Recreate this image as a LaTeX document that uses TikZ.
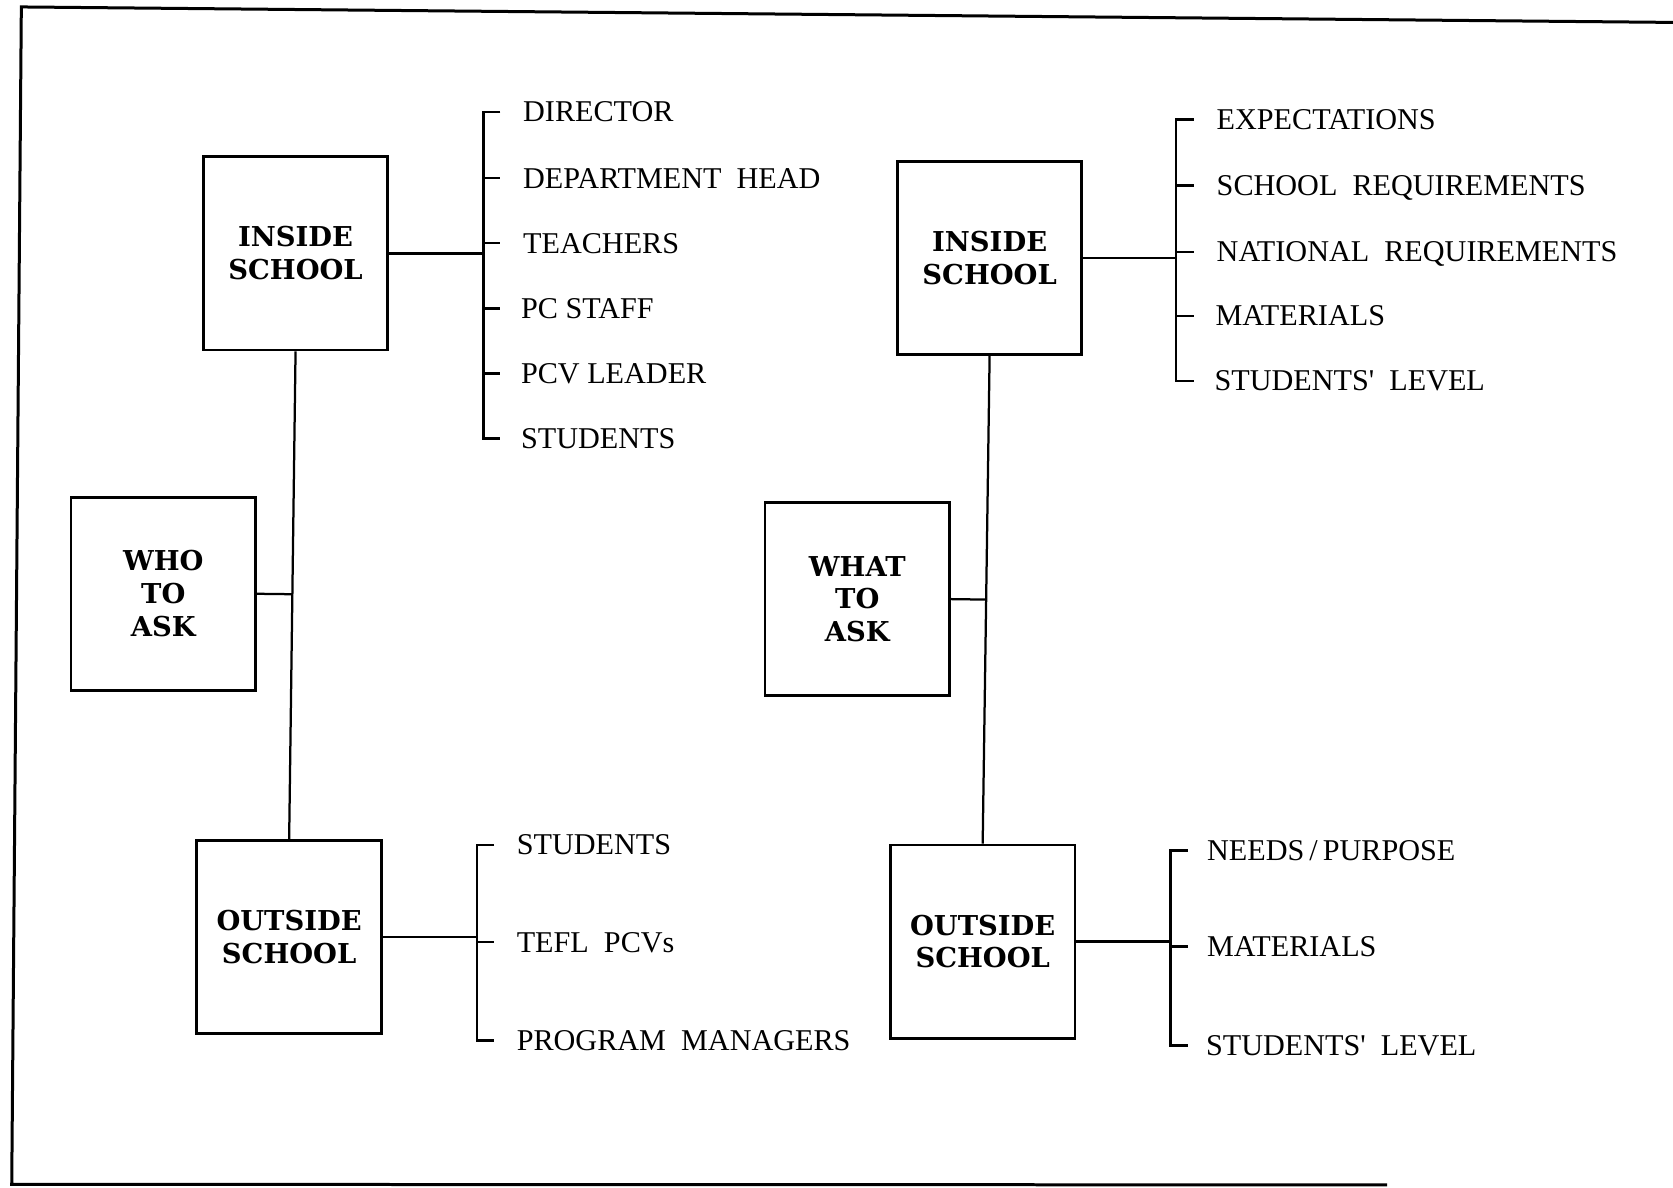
\documentclass[tikz,border=0pt]{standalone}
\usepackage{fontspec}
\setmainfont{Liberation Serif}
\newfontfamily\itemfont{Liberation Serif}
\newfontfamily\boxfont{DejaVu Serif}
\usetikzlibrary{calc}
\begin{document}
\begin{tikzpicture}[x=0.02cm,y=-0.02cm,
  box/.style={draw, line width=1.5pt, minimum width=3.46cm, minimum height=3.62cm,
    align=center, inner sep=0pt, font=\boxfont\bfseries\fontsize{14.6}{17.5}\selectfont},
  item/.style={anchor=west, inner sep=0pt, text height=10.6pt, text depth=0pt,
    font=\itemfont\fontsize{16.1}{18}\selectfont},
  conn/.style={line width=1.2pt},
  brk/.style={line width=1.3pt},
  frame/.style={line width=1.6pt}]
\useasboundingbox (0,0) rectangle (1568,1113);
% frame
\coordinate (f1) at (1568,21);
\coordinate (f2) at (20,6.5);
\coordinate (f3) at (11,1110);
\coordinate (f4) at (1300,1110.5);
\draw[frame] (f1) -- (f2) -- (f3) -- (f4);

% boxes
\node[box] (LI) at (277,237.5) {INSIDE\\SCHOOL};
\node[box] (WHO) at (153,556.5) {WHO\\TO\\ASK};
\node[box] (LO) at (271,878.5) {OUTSIDE\\SCHOOL};
\node[box] (RI) at (927.5,241.5) {INSIDE\\SCHOOL};
\node[box] (WHAT) at (803.5,561.5) {WHAT\\TO\\ASK};
\node[box] (RO) at (921,882.5) {OUTSIDE\\SCHOOL};

% vertical connectors
\draw[conn] (LI.south) -- (LO.north);
\draw[conn] (WHO.east) -- ($(LI.south)!(WHO.east)!(LO.north)$);
\draw[conn] (RI.south) -- (RO.north);
\draw[conn] (WHAT.east) -- ($(RI.south)!(WHAT.east)!(RO.north)$);

% left inside items
\node[item] (a1) at (490,105) {DIRECTOR};
\node[item] (a2) at (490,167) {DEPARTMENT\ \ HEAD};
\node[item] (a3) at (490,228) {TEACHERS};
\node[item] (a4) at (488,289) {PC STAFF};
\node[item] (a5) at (488,350) {PCV LEADER};
\node[item] (a6) at (488,411) {STUDENTS};
\coordinate (ba) at (453,105);
\draw[brk] (a1.west -| 469,0) -- (a1.west -| ba) -- (a6.west -| ba) -- (a6.west -| 469,0);
\foreach \n in {a2,a3,a4,a5} \draw[brk] (\n.west -| ba) -- ++(16,0);
\draw[conn] (LI.east) -- (LI.east -| ba);

% left outside items
\node[item] (b1) at (484,792) {STUDENTS};
\node[item] (b2) at (484,883) {TEFL\ \ PCVs};
\node[item] (b3) at (484,975) {PROGRAM\ \ MANAGERS};
\coordinate (bb) at (447,792);
\draw[brk] (b1.west -| 463,0) -- (b1.west -| bb) -- (b3.west -| bb) -- (b3.west -| 463,0);
\draw[brk] (b2.west -| bb) -- ++(16,0);
\draw[conn] (LO.east) -- (LO.east -| bb);

% right inside items
\node[item] (c1) at (1140,112) {EXPECTATIONS};
\node[item] (c2) at (1140,174) {SCHOOL\ \ REQUIREMENTS};
\node[item] (c3) at (1140,236) {NATIONAL\ \ REQUIREMENTS};
\node[item] (c4) at (1139,296) {MATERIALS};
\node[item] (c5) at (1138,357) {STUDENTS'\ \ LEVEL};
\coordinate (bc) at (1102,112);
\draw[brk] (c1.west -| 1119,0) -- (c1.west -| bc) -- (c5.west -| bc) -- (c5.west -| 1119,0);
\foreach \n in {c2,c3,c4} \draw[brk] (\n.west -| bc) -- ++(17,0);
\draw[conn] (RI.east) -- (RI.east -| bc);

% right outside items
\node[item] (d1) at (1131,797) {NEEDS\,/\,PURPOSE};
\node[item] (d2) at (1131,887) {MATERIALS};
\node[item] (d3) at (1130,980) {STUDENTS'\ \ LEVEL};
\coordinate (bd) at (1097,797);
\draw[brk] (d1.west -| 1113,0) -- (d1.west -| bd) -- (d3.west -| bd) -- (d3.west -| 1113,0);
\draw[brk] (d2.west -| bd) -- ++(16,0);
\draw[conn] (RO.east) -- (RO.east -| bd);
\end{tikzpicture}
\end{document}
